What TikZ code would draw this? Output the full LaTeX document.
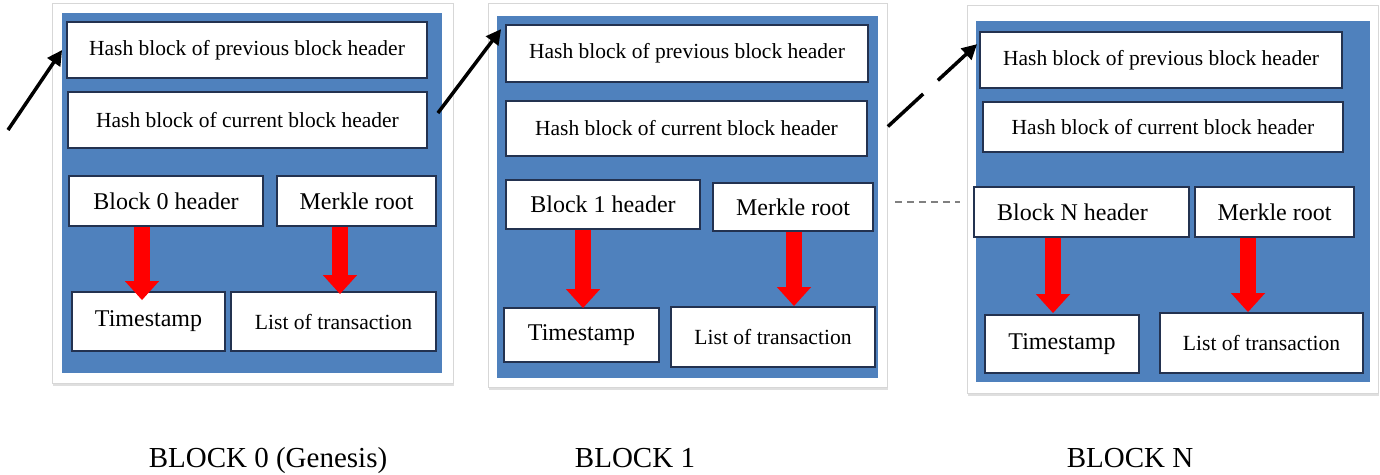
\documentclass[tikz,border=0pt]{standalone}
\usepackage{fontspec}
\setmainfont{Liberation Serif}
\usetikzlibrary{arrows.meta,shadows}

\definecolor{panelblue}{RGB}{79,129,189}
\definecolor{boxline}{RGB}{35,50,80}
\definecolor{framegray}{RGB}{215,215,215}

\tikzset{
  frame/.style={fill=white, draw=framegray, line width=0.8pt, inner sep=0pt,
    drop shadow={shadow xshift=1pt, shadow yshift=-3pt, opacity=0.25}},
  panel/.style={fill=panelblue, draw=none, inner sep=0pt},
  cell/.style={fill=white, draw=boxline, line width=1.8pt, inner sep=0pt, align=center},
  hashtext/.style={font=\fontsize{21.5}{24}\selectfont},
  bigtext/.style={font=\fontsize{24}{26}\selectfont},
  listtext/.style={font=\fontsize{21.6}{24}\selectfont},
  caption/.style={font=\fontsize{29}{32}\selectfont, anchor=base},
  redarrow/.style={draw=red, line width=16pt,
    -{Triangle[length=19pt, width=33pt]}},
  linkarrow/.style={draw=black, line width=3.5pt,
    -{Triangle[length=15pt, width=15pt]}},
  gapline/.style={draw=gray, line width=1.5pt, dash pattern=on 7pt off 5pt}
}

\begin{document}
\begin{tikzpicture}[x=1pt,y=-1pt]
\useasboundingbox[fill=white] (0,0) rectangle (1380,474);

% ---------- Block 0 ----------
\node[frame, minimum width=401, minimum height=380] (f0) at (252.5,193) {};
\node[panel, minimum width=380, minimum height=360] (p0) at (252,193) {};
\node[cell, hashtext, minimum width=360, minimum height=56] (hp0) at (247,50) {Hash block of previous block header};
\node[cell, hashtext, minimum width=359, minimum height=56] (hc0) at (247.5,120) {Hash block of current block header};
\node[cell, bigtext, minimum width=194, minimum height=50] (bh0) at (166,201) {Block 0 header};
\node[cell, bigtext, minimum width=159, minimum height=50] (mr0) at (356.5,201) {Merkle root};
\node[cell, bigtext, minimum width=153, minimum height=59] (ts0) at (148.5,321.5) {Timestamp};
\node[cell, listtext, minimum width=205, minimum height=59] (lt0) at (333.5,321.5) {List of transaction};
\draw[redarrow] (142,0 |- bh0.south) -- ([yshift=-9pt]142,0 |- ts0.north);
\draw[redarrow] (340,0 |- mr0.south) -- ([yshift=-3pt]340,0 |- lt0.north);

% ---------- Block 1 ----------
\node[frame, minimum width=399, minimum height=384] (f1) at (687.5,195) {};
\node[panel, minimum width=381, minimum height=362] (p1) at (687.5,197) {};
\node[cell, hashtext, minimum width=362, minimum height=57] (hp1) at (687,53.5) {Hash block of previous block header};
\node[cell, hashtext, minimum width=361, minimum height=55] (hc1) at (686.5,128.5) {Hash block of current block header};
\node[cell, bigtext, minimum width=194, minimum height=49] (bh1) at (603,204.5) {Block 1 header};
\node[cell, bigtext, minimum width=160, minimum height=48] (mr1) at (793,207) {Merkle root};
\node[cell, bigtext, minimum width=155, minimum height=54] (ts1) at (581.5,335) {Timestamp};
\node[cell, listtext, minimum width=204, minimum height=60] (lt1) at (773,337) {List of transaction};
\draw[redarrow] (583,0 |- bh1.south) -- ([yshift=-1pt]583,0 |- ts1.north);
\draw[redarrow] (794,0 |- mr1.south) -- (794,0 |- lt1.north);

% ---------- Block N ----------
\node[frame, minimum width=411, minimum height=388] (fN) at (1172.5,199) {};
\node[panel, minimum width=394, minimum height=361] (pN) at (1173,201.5) {};
\node[cell, hashtext, minimum width=362, minimum height=56] (hpN) at (1161,60) {Hash block of previous block header};
\node[cell, hashtext, minimum width=360, minimum height=50] (hcN) at (1163,127) {Hash block of current block header};
\node[cell, bigtext, minimum width=215, minimum height=50] (bhN) at (1081.5,212) {Block N header\hspace{18pt}};
\node[cell, bigtext, minimum width=159, minimum height=50] (mrN) at (1274.5,212) {Merkle root};
\node[cell, bigtext, minimum width=154, minimum height=58] (tsN) at (1062,344) {Timestamp};
\node[cell, listtext, minimum width=203, minimum height=60] (ltN) at (1261.5,343) {List of transaction};
\draw[redarrow] (1053,0 |- bhN.south) -- ([yshift=1pt]1053,0 |- tsN.north);
\draw[redarrow] (1248,0 |- mrN.south) -- (1248,0 |- ltN.north);

% ---------- chain links ----------
\coordinate (chainin) at (8,130);
\draw[linkarrow] (chainin) -- ([xshift=-4pt]hp0.west);
\draw[linkarrow] ([shift={(10,-7)}]hc0.east) -- ([shift={(-4,5)}]hp1.north west);
\draw[linkarrow, dash pattern=on 48pt off 20pt] ([shift={(20,-2)}]hc1.east) -- ([shift={(-2,13)}]hpN.north west);

% ellipsis between block 1 and block N
\coordinate (gapl) at (895,202);
\coordinate (gapr) at (960,202);
\draw[gapline] (gapl) -- (gapr);

% ---------- captions ----------
\node[caption] (c0) at (268,467) {BLOCK 0 (Genesis)};
\node[caption] (c1) at (635,467) {BLOCK 1};
\node[caption] (cN) at (1130,467) {BLOCK N};
\end{tikzpicture}
\end{document}
